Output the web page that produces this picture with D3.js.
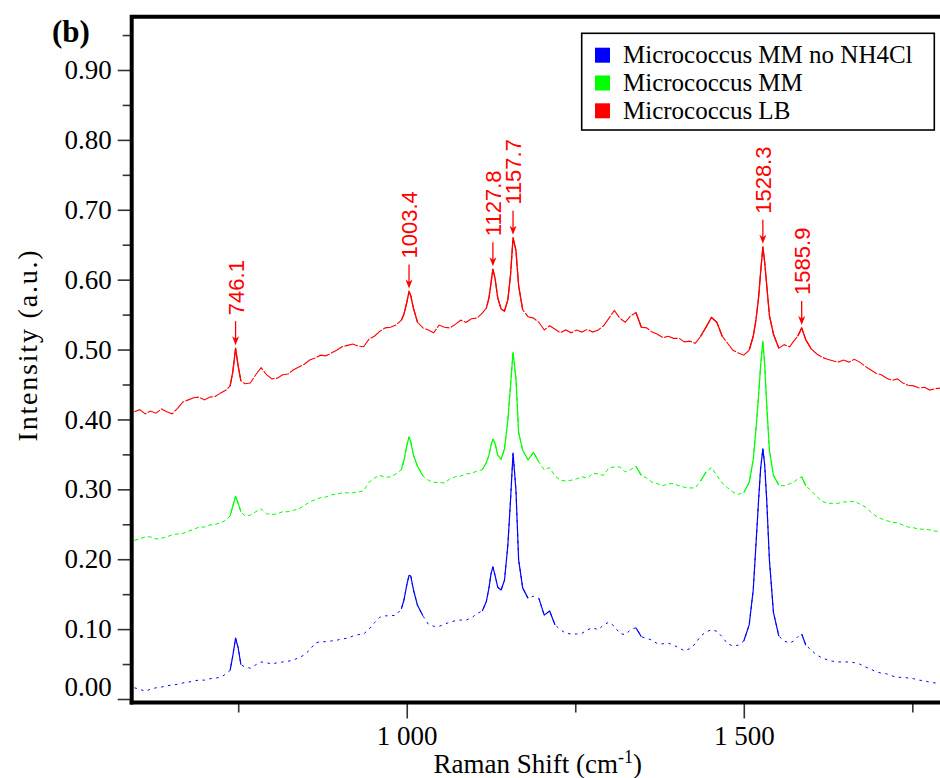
<!DOCTYPE html>
<html>
<head>
<meta charset="utf-8">
<script src="https://cdn.jsdelivr.net/npm/d3@7"></script>
<style>
  body { margin: 0; background: #fff; }
  svg { display: block; }
</style>
</head>
<body>
<svg id="chart" width="940" height="778"></svg>
<script>
// Raman shift grid (cm^-1) shared by the three spectra
const shift = [
  596,604,612,620,628,636,644,652,660,668,676,684,692,700,708,716,724,
  732,738,742,746.1,750,754,760,
  768,776,784,792,800,808,816,824,832,840,848,856,864,872,880,888,896,904,912,920,928,936,944,952,960,968,976,984,992,
  996,1000,1003.4,1006,1010,1016,
  1024,1032,1040,1048,1056,1064,1072,1080,1088,1096,1104,1112,
  1118,1122,1125,1127.8,1131,1135,1140,1145,1150,1154,1157.7,1162,1166,1172,
  1180,1188,1196,1204,1212,1220,1228,1236,1244,1252,1260,1268,1276,1284,1292,1300,1308,1316,1324,1332,
  1340,1348,1356,1364,1372,1380,1388,1396,1404,1412,1420,1428,1436,1444,1452,1460,1468,1476,1484,1492,1500,
  1508,1514,1518,1522,1525,1528.3,1531,1534,1538,1544,
  1552,1560,1568,
  1574,1580,1585.9,1592,
  1600,1608,1616,1624,1632,1640,1648,1656,1664,1672,1680,1688,1696,1704,1712,1720,1728,1736,1744,1752,1760,1768,1776,1784,1792
];

// Micrococcus LB (offset spectrum, top)
const lbValues = [
  0.411,0.414,0.408,0.412,0.409,0.415,0.411,0.408,0.416,0.425,0.428,0.431,0.432,0.428,0.432,0.433,0.438,
  0.442,0.448,0.468,0.502,0.476,0.455,0.451,
  0.452,0.464,0.474,0.464,0.458,0.459,0.464,0.465,0.471,0.475,0.479,0.485,0.488,0.492,0.491,0.495,0.499,0.504,0.506,0.508,0.505,0.504,0.515,0.519,0.526,0.531,0.532,0.535,0.542,
  0.551,0.567,0.583,0.577,0.559,0.539,
  0.531,0.528,0.524,0.535,0.532,0.531,0.536,0.542,0.539,0.544,0.545,0.552,
  0.559,0.574,0.595,0.615,0.602,0.574,0.558,0.555,0.571,0.607,0.660,0.642,0.591,0.557,
  0.547,0.545,0.539,0.528,0.534,0.529,0.524,0.528,0.524,0.528,0.525,0.529,0.525,0.528,0.534,0.545,0.556,0.545,0.539,0.548,
  0.553,0.532,0.531,0.525,0.522,0.517,0.519,0.516,0.516,0.511,0.512,0.509,0.519,0.532,0.546,0.539,0.519,0.509,0.499,0.495,0.492,
  0.499,0.519,0.542,0.575,0.611,0.647,0.625,0.592,0.549,0.522,
  0.502,0.507,0.504,
  0.512,0.519,0.531,0.514,
  0.501,0.494,0.489,0.486,0.484,0.482,0.485,0.482,0.486,0.482,0.476,0.471,0.466,0.464,0.459,0.456,0.458,0.452,0.449,0.448,0.445,0.446,0.442,0.444,0.445
];

// Micrococcus MM (offset spectrum, middle)
const mmValues = [
  0.227,0.229,0.232,0.232,0.229,0.230,0.232,0.235,0.236,0.237,0.240,0.243,0.246,0.246,0.249,0.250,0.252,
  0.256,0.262,0.276,0.290,0.280,0.268,0.262,
  0.263,0.268,0.272,0.265,0.264,0.265,0.268,0.268,0.270,0.272,0.277,0.282,0.285,0.288,0.289,0.292,0.293,0.295,0.295,0.295,0.296,0.298,0.310,0.316,0.320,0.317,0.318,0.322,0.328,
  0.342,0.362,0.375,0.368,0.349,0.333,
  0.319,0.313,0.310,0.310,0.309,0.315,0.318,0.319,0.322,0.323,0.326,0.328,
  0.338,0.349,0.363,0.372,0.366,0.349,0.343,0.358,0.399,0.449,0.496,0.459,0.381,0.356,
  0.342,0.353,0.339,0.328,0.331,0.319,0.313,0.312,0.313,0.315,0.318,0.316,0.323,0.322,0.320,0.331,0.332,0.332,0.325,0.328,
  0.333,0.320,0.316,0.310,0.308,0.305,0.308,0.308,0.305,0.303,0.302,0.302,0.312,0.325,0.331,0.320,0.309,0.302,0.296,0.293,0.295,
  0.310,0.342,0.385,0.435,0.478,0.512,0.478,0.421,0.356,0.320,
  0.306,0.305,0.308,
  0.310,0.315,0.318,0.305,
  0.298,0.290,0.283,0.280,0.280,0.280,0.282,0.282,0.283,0.279,0.275,0.268,0.262,0.258,0.255,0.253,0.252,0.249,0.246,0.245,0.243,0.243,0.242,0.240,0.240
];

// Micrococcus MM without NH4Cl (bottom)
const mmNoNH4ClValues = [
  0.016,0.014,0.011,0.014,0.016,0.017,0.019,0.020,0.021,0.023,0.024,0.026,0.027,0.027,0.029,0.030,0.031,
  0.036,0.041,0.062,0.087,0.073,0.049,0.046,
  0.044,0.049,0.053,0.052,0.050,0.052,0.053,0.054,0.056,0.059,0.063,0.070,0.080,0.082,0.082,0.083,0.084,0.086,0.087,0.090,0.092,0.093,0.100,0.109,0.117,0.119,0.119,0.120,0.129,
  0.142,0.163,0.177,0.176,0.156,0.134,
  0.119,0.107,0.104,0.104,0.107,0.110,0.112,0.113,0.113,0.116,0.122,0.126,
  0.139,0.159,0.179,0.189,0.177,0.160,0.156,0.170,0.220,0.285,0.352,0.299,0.199,0.159,
  0.144,0.147,0.144,0.120,0.126,0.106,0.099,0.094,0.093,0.093,0.094,0.099,0.102,0.099,0.106,0.110,0.104,0.094,0.092,0.099,
  0.102,0.089,0.087,0.084,0.079,0.079,0.080,0.077,0.073,0.069,0.072,0.079,0.090,0.096,0.099,0.097,0.089,0.079,0.076,0.077,0.083,
  0.106,0.156,0.220,0.285,0.330,0.358,0.335,0.285,0.199,0.124,
  0.090,0.083,0.080,
  0.083,0.089,0.093,0.077,
  0.070,0.063,0.059,0.056,0.054,0.053,0.053,0.053,0.052,0.050,0.046,0.043,0.039,0.037,0.036,0.033,0.031,0.031,0.030,0.029,0.027,0.026,0.024,0.023,0.023
];

const seriesNames = ["Micrococcus MM no NH4Cl", "Micrococcus MM", "Micrococcus LB"];
const seriesColors = ["#0000ff", "#00ff00", "#ff0000"];

// Labelled band positions on the LB spectrum (cm^-1)
const peakShifts = [746.1, 1003.4, 1127.8, 1157.7, 1528.3, 1585.9];

const yMajorTicks = [0, 0.1, 0.2, 0.3, 0.4, 0.5, 0.6, 0.7, 0.8, 0.9];
const yMinorTicks = [0.05, 0.15, 0.25, 0.35, 0.45, 0.55, 0.65, 0.75, 0.85, 0.95];
const xMajorTicks = [1000, 1500];
const xMinorTicks = [750, 1250, 1750];

const serif = "'Liberation Serif', 'Times New Roman', Times, serif";
const sans = "'Liberation Sans', Arial, Helvetica, sans-serif";

const svg = d3.select("#chart");

const plot = { left: 131.7, right: 944, top: 16.7, bottom: 702.5 };

const x = d3.scaleLinear().domain([592, 1797]).range([plot.left, plot.right]);
const y = d3.scaleLinear().domain([0, 0.9]).range([699, 70]);

svg.append("defs").append("clipPath").attr("id", "plotClip")
  .append("rect")
  .attr("x", plot.left + 2).attr("y", plot.top + 2)
  .attr("width", plot.right - plot.left).attr("height", plot.bottom - plot.top - 4);

// Spectra: hairline traces; flat stretches are drawn broken, steep band flanks solid
const spectra = [
  { name: seriesNames[0], color: seriesColors[0], values: mmNoNH4ClValues, width: 1.0, dash: "2.5,4.5" },
  { name: seriesNames[1], color: seriesColors[1], values: mmValues, width: 1.0, dash: "4,3" },
  { name: seriesNames[2], color: seriesColors[2], values: lbValues, width: 1.1, dash: "14,1.5" }
];

const curves = svg.append("g").attr("clip-path", "url(#plotClip)");

spectra.forEach(s => {
  const pts = s.values.map((v, i) => [x(shift[i]), y(v)]);
  const steepSeg = i => i > 0 && i < pts.length &&
    Math.abs(pts[i][1] - pts[i - 1][1]) / (pts[i][0] - pts[i - 1][0]) > 1.6;

  curves.append("path")
    .attr("fill", "none")
    .attr("stroke", s.color)
    .attr("stroke-width", s.width)
    .attr("stroke-dasharray", s.dash)
    .attr("d", d3.line()(pts));

  curves.append("path")
    .attr("fill", "none")
    .attr("stroke", s.color)
    .attr("stroke-width", s.width + 0.2)
    .attr("stroke-linejoin", "round")
    .attr("d", d3.line().defined((d, i) => steepSeg(i) || steepSeg(i + 1))(pts));
});

// Peak annotations on the LB spectrum
const lbAt = s => lbValues[shift.indexOf(s)];
const ann = svg.append("g").attr("class", "annotations");
peakShifts.forEach(s => {
  const px = x(s);
  const tip = y(lbAt(s)) - 3;
  const top = tip - 24;
  ann.append("line")
    .attr("x1", px).attr("x2", px)
    .attr("y1", top).attr("y2", tip - 4)
    .attr("stroke", "#ff0000").attr("stroke-width", 1.3);
  ann.append("path")
    .attr("d", `M${px},${tip} L${px - 3.5},${tip - 9} L${px},${tip - 6.5} L${px + 3.5},${tip - 9} Z`)
    .attr("fill", "#ff0000");
  ann.append("text")
    .attr("transform", `translate(${px},${top - 6}) rotate(-90)`)
    .attr("dy", "0.36em")
    .attr("text-anchor", "start")
    .style("font-family", sans)
    .style("font-size", "22px")
    .attr("fill", "#ff0000")
    .text(d3.format(".1f")(s));
});

// Y axis (major with labels, minor without)
const yAxisMajor = svg.append("g")
  .attr("transform", `translate(${plot.left},0)`)
  .call(d3.axisLeft(y).tickValues(yMajorTicks).tickSize(14).tickPadding(6).tickFormat(d3.format(".2f")));
yAxisMajor.select(".domain").remove();
yAxisMajor.selectAll(".tick line").attr("stroke", "#333").attr("stroke-width", 1.6);
yAxisMajor.selectAll(".tick text")
  .style("font-family", serif).style("font-size", "27px").style("font-weight", "normal").attr("fill", "#000");
yAxisMajor.selectAll(".tick").filter(d => d === 0).select("text").attr("y", -12);

const yAxisMinor = svg.append("g")
  .attr("transform", `translate(${plot.left},0)`)
  .call(d3.axisLeft(y).tickValues(yMinorTicks).tickSize(9).tickFormat(""));
yAxisMinor.select(".domain").remove();
yAxisMinor.selectAll(".tick line").attr("stroke", "#333").attr("stroke-width", 1.6);

// X axis
const xAxisMajor = svg.append("g")
  .attr("transform", `translate(0,${plot.bottom})`)
  .call(d3.axisBottom(x).tickValues(xMajorTicks).tickSize(16).tickPadding(7)
    .tickFormat(d => d3.format(",")(d).replace(",", " ")));
xAxisMajor.select(".domain").remove();
xAxisMajor.selectAll(".tick line").attr("stroke", "#333").attr("stroke-width", 1.6);
xAxisMajor.selectAll(".tick text")
  .style("font-family", serif).style("font-size", "27px").style("font-weight", "normal").attr("fill", "#000");

const xAxisMinor = svg.append("g")
  .attr("transform", `translate(0,${plot.bottom})`)
  .call(d3.axisBottom(x).tickValues(xMinorTicks).tickSize(10).tickFormat(""));
xAxisMinor.select(".domain").remove();
xAxisMinor.selectAll(".tick line").attr("stroke", "#333").attr("stroke-width", 1.6);

// Frame: left axis, bottom axis, top border
const frame = svg.append("g").attr("stroke", "#000").attr("stroke-width", 4).attr("fill", "none");
frame.append("path")
  .attr("d", `M${plot.left},${plot.bottom + 2} L${plot.left},${plot.top} L940,${plot.top}`)
  .attr("stroke-linejoin", "miter");
frame.append("line")
  .attr("x1", plot.left - 2).attr("x2", 940)
  .attr("y1", plot.bottom).attr("y2", plot.bottom);

// Axis titles
const xTitle = svg.append("text")
  .attr("x", (plot.left + plot.right) / 2).attr("y", 773)
  .attr("text-anchor", "middle")
  .style("font-family", serif).style("font-size", "27px").attr("fill", "#000");
xTitle.append("tspan").text("Raman Shift (cm");
xTitle.append("tspan").attr("dy", -10).style("font-size", "18px").text("-1");
xTitle.append("tspan").attr("dy", 10).text(")");

svg.append("text")
  .attr("transform", `translate(37,345) rotate(-90)`)
  .attr("text-anchor", "middle")
  .style("font-family", serif).style("font-size", "28px").style("letter-spacing", "1.8px")
  .attr("fill", "#000")
  .text("Intensity (a.u.)");

// Panel letter
svg.append("text")
  .attr("x", 52).attr("y", 42)
  .style("font-family", serif).style("font-size", "31px").style("font-weight", "bold")
  .text("(b)");

// Legend
const legend = svg.append("g").attr("class", "legend");
legend.append("rect")
  .attr("x", 581.7).attr("y", 33.3).attr("width", 352.6).attr("height", 96.7)
  .attr("fill", "#fff").attr("stroke", "#000").attr("stroke-width", 1.6);
const rows = legend.selectAll("g.row")
  .data(seriesNames)
  .join("g")
  .attr("class", "row")
  .attr("transform", (d, i) => `translate(595,${47.7 + i * 27.8})`);
rows.append("rect")
  .attr("width", 15).attr("height", 15)
  .attr("fill", (d, i) => seriesColors[i]);
rows.append("text")
  .attr("x", 28).attr("y", 15.6)
  .style("font-family", serif).style("font-size", "25px").attr("fill", "#000")
  .text(d => d);
</script>
</body>
</html>
